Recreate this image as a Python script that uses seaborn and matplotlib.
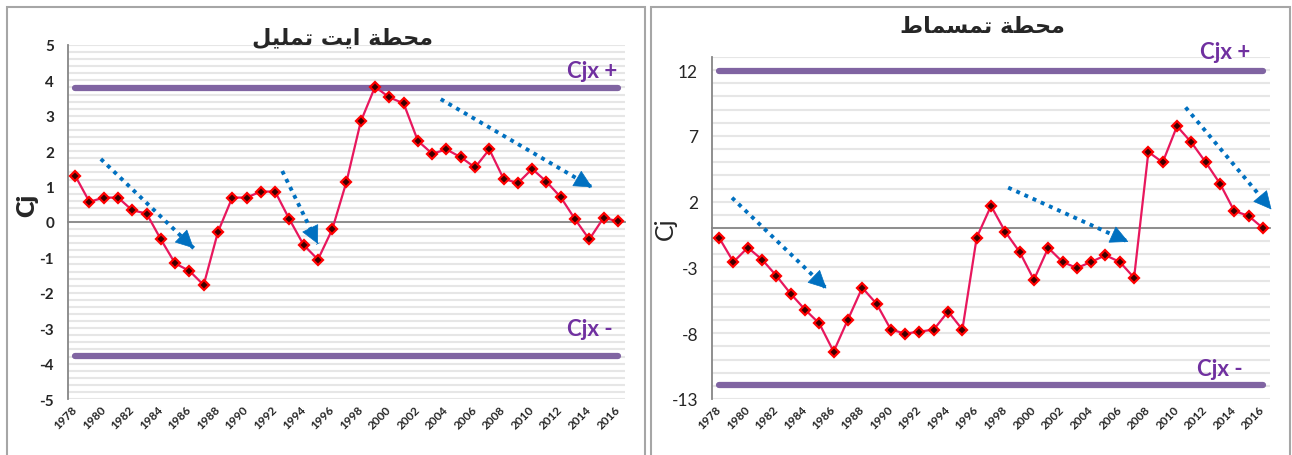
import numpy as np
import pandas as pd
import seaborn as sns
import matplotlib.pyplot as plt
from matplotlib.patches import Rectangle
from matplotlib.ticker import MultipleLocator

# --- data ------------------------------------------------------------------
years = list(range(1978, 2017))

cj_ait_tmlil = [1.31, 0.57, 0.69, 0.69, 0.33, 0.24, -0.49, -1.17, -1.38, -1.78,
                -0.28, 0.69, 0.69, 0.86, 0.86, 0.08, -0.65, -1.06, -0.21, 1.14,
                2.84, 3.82, 3.52, 3.35, 2.29, 1.93, 2.05, 1.83, 1.54, 2.05,
                1.22, 1.10, 1.50, 1.14, 0.70, 0.08, -0.49, 0.12, 0.02]

cj_tamesmat = [-0.75, -2.58, -1.49, -2.40, -3.63, -5.0, -6.2, -7.26, -9.4, -6.96,
               -4.54, -5.76, -7.72, -8.03, -7.88, -7.72, -6.35, -7.72, -0.73, 1.68,
               -0.29, -1.82, -3.93, -1.51, -2.58, -3.04, -2.58, -2.07, -2.58, -3.78,
               5.78, 4.99, 7.74, 6.51, 5.01, 3.38, 1.30, 0.92, 0.0]

cjx_ait_tmlil = 3.78
cjx_tamesmat = 11.9

# trend arrows (start -> end, in data units)
arrows_ait_tmlil = [((1979.8, 1.78), (1986.3, -0.74)),
                    ((1992.5, 1.44), (1995.0, -0.62)),
                    ((2003.6, 3.47), (2014.2, 0.98))]
arrows_tamesmat = [((1978.9, 2.3), (1985.5, -4.6)),
                   ((1998.2, 3.07), (2006.6, -1.05)),
                   ((2010.6, 9.17), (2016.6, 1.41))]


def shape_arabic(words):
    """ Join words given in presentation forms and flip them to visual order. """
    return " ".join(words)[::-1]


# محطة ايت تمليل / محطة تمسماط, letters written in their joined forms
title_ait_tmlil = shape_arabic(["\uFEE3\uFEA4\uFEC4\uFE94", "\uFE8D\uFEF3\uFE96",
                                "\uFE97\uFEE4\uFEE0\uFEF4\uFEDE"])
title_tamesmat = shape_arabic(["\uFEE3\uFEA4\uFEC4\uFE94",
                               "\uFE97\uFEE4\uFEB4\uFEE4\uFE8E\uFEC1"])

LINE_RED = "#E8175D"
PURPLE_LINE = "#8064A2"
PURPLE_TEXT = "#7030A0"
ARROW_BLUE = "#0070C0"
AXIS_GRAY = "#868686"

sns.set_style("white")
plt.rcParams["font.family"] = ["Lato", "DejaVu Sans"]
plt.rcParams["axes.unicode_minus"] = False


def draw_arrow(ax, start, end):
    # dotted shaft, then a solid filled head on the last bit of the segment
    ax.plot([start[0], end[0]], [start[1], end[1]], color=ARROW_BLUE, lw=2.8,
            linestyle=(0, (1, 1.3)), dash_capstyle="butt", zorder=5, clip_on=False)
    frac = 0.08
    tail = (end[0] - frac * (end[0] - start[0]), end[1] - frac * (end[1] - start[1]))
    ax.annotate("", xy=end, xytext=tail, zorder=6, annotation_clip=False,
                arrowprops=dict(arrowstyle="-|>,head_length=1.2,head_width=0.6",
                                color=ARROW_BLUE, lw=0.5, shrinkA=0, shrinkB=0))


def draw_panel(ax, values, cjx, arrows, ylim, major, minor, bold_ticks, ylabel_weight):
    df = pd.DataFrame({"year": years, "cj": values})

    sns.lineplot(data=df, x="year", y="cj", ax=ax, color=LINE_RED, lw=1.6,
                 marker="D", markersize=5.5, markerfacecolor="#3C0000",
                 markeredgecolor="#FF0000", markeredgewidth=1.6, zorder=4)

    # control limits
    ax.plot(years, [cjx] * len(years), color=PURPLE_LINE, lw=4.5, zorder=3,
            solid_capstyle="round")
    ax.plot(years, [-cjx] * len(years), color=PURPLE_LINE, lw=4.5, zorder=3,
            solid_capstyle="round")

    for start, end in arrows:
        draw_arrow(ax, start, end)

    ax.set_xlim(years[0] - 0.5, years[-1] + 0.5)
    ax.set_ylim(*ylim)
    ax.set_yticks(np.arange(ylim[0], ylim[1] + 0.01, major))
    ax.yaxis.set_minor_locator(MultipleLocator(minor))
    ax.grid(which="both", axis="y", color="#E6E6E6", lw=1.5)
    ax.set_axisbelow(True)

    for side in ("top", "right"):
        ax.spines[side].set_visible(False)
    ax.spines["left"].set_color(AXIS_GRAY)
    ax.spines["left"].set_linewidth(1.3)
    ax.spines["bottom"].set_position(("data", 0))
    ax.spines["bottom"].set_color(AXIS_GRAY)
    ax.spines["bottom"].set_linewidth(1.3)

    # category boundary ticks on the zero line
    bounds = [y - 0.5 for y in years] + [years[-1] + 0.5]
    ax.set_xticks(bounds, labels=[""] * len(bounds))
    ax.tick_params(axis="x", direction="out", length=5, color=AXIS_GRAY, width=1.2)
    ax.tick_params(axis="y", which="major", direction="out", length=5,
                   color=AXIS_GRAY, width=1.2, pad=5,
                   labelsize=11 if bold_ticks else 12.5)
    ax.tick_params(axis="y", which="minor", length=0)
    for lab in ax.get_yticklabels():
        lab.set_fontweight("bold" if bold_ticks else "normal")

    # year labels at the bottom of the plot area
    sec = ax.secondary_xaxis(0.0)
    sec.set_xticks(years[::2], labels=[str(y) for y in years[::2]])
    sec.tick_params(length=0, pad=6, labelsize=8.5)
    sec.spines["bottom"].set_visible(False)
    for lab in sec.get_xticklabels():
        lab.set_rotation(45)
        lab.set_ha("right")
        lab.set_va("center")
        lab.set_rotation_mode("anchor")
        lab.set_fontweight("bold")

    ax.set_xlabel("")
    ax.set_ylabel("Cj", fontsize=18, fontweight=ylabel_weight)


fig = plt.figure(figsize=(12.92, 4.56), dpi=100)

# panel frames
fig.patches.append(Rectangle((7 / 1292, -0.05), 638 / 1292, 1.05 - 8 / 456,
                             transform=fig.transFigure, fill=False,
                             edgecolor="#A6A6A6", lw=1.5))
fig.patches.append(Rectangle((651 / 1292, -0.05), 639 / 1292, 1.05 - 8 / 456,
                             transform=fig.transFigure, fill=False,
                             edgecolor="#A6A6A6", lw=1.5))

ax1 = fig.add_axes([68 / 1292, 56 / 456, 557 / 1292, 354 / 456])
ax2 = fig.add_axes([712 / 1292, 56 / 456, 558 / 1292, 342 / 456])

draw_panel(ax1, cj_ait_tmlil, cjx_ait_tmlil, arrows_ait_tmlil, (-5, 5), 1, 0.2,
           True, "heavy")
draw_panel(ax2, cj_tamesmat, cjx_tamesmat, arrows_tamesmat, (-13, 13), 5, 1,
           False, "normal")

ax1.yaxis.set_label_coords(-0.054, 0.55)
ax2.yaxis.set_label_coords(-0.063, 0.50)

ax1.text(0.986, 0.927, "Cjx +", transform=ax1.transAxes, ha="right", va="center",
         color=PURPLE_TEXT, fontsize=16, fontweight="bold")
ax1.text(0.978, 0.198, "Cjx -", transform=ax1.transAxes, ha="right", va="center",
         color=PURPLE_TEXT, fontsize=16, fontweight="bold")
ax2.text(0.964, 1.015, "Cjx +", transform=ax2.transAxes, ha="right", va="center",
         color=PURPLE_TEXT, fontsize=16, fontweight="bold")
ax2.text(0.951, 0.088, "Cjx -", transform=ax2.transAxes, ha="right", va="center",
         color=PURPLE_TEXT, fontsize=16, fontweight="bold")

fig.text(343 / 1292, 1 - 38 / 456, title_ait_tmlil, ha="center", va="center",
         fontsize=16, fontweight="bold", family=["DejaVu Sans"])
fig.text(982 / 1292, 1 - 27 / 456, title_tamesmat, ha="center", va="center",
         fontsize=16, fontweight="bold", family=["DejaVu Sans"])

fig.savefig("out.png", dpi=100)
